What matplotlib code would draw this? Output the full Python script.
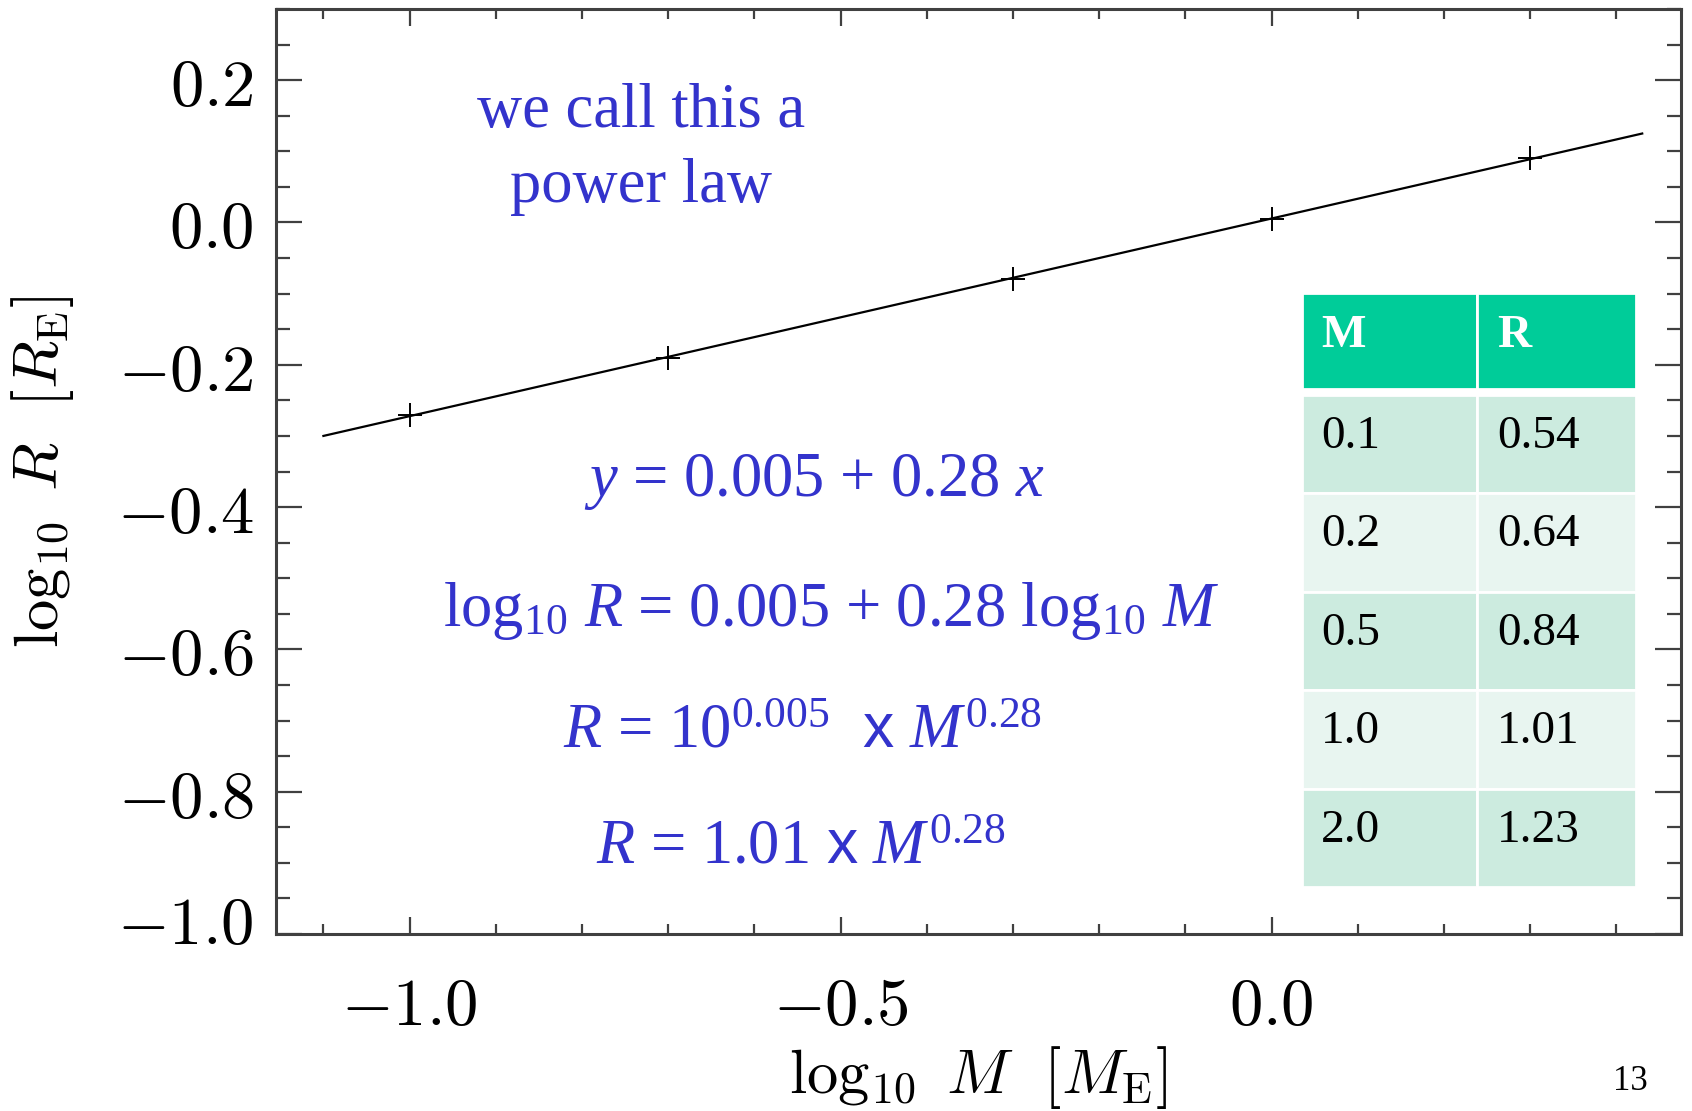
"""
Mass-radius power law slide: log10 R vs log10 M with fit line, equations and a small table.
"""
import matplotlib
matplotlib.use("Agg")
import matplotlib.pyplot as plt
from matplotlib.patches import Rectangle
from matplotlib.ticker import FixedLocator, MultipleLocator
from matplotlib.transforms import ScaledTranslation

plt.rcParams["mathtext.fontset"] = "cm"
# "custom" math set used only by the blue slide text
plt.rcParams["mathtext.rm"] = "Liberation Serif"
plt.rcParams["mathtext.it"] = "Liberation Serif:italic"
plt.rcParams["mathtext.sf"] = "Liberation Sans"

# table values (Earth units)
mass = ["0.1", "0.2", "0.5", "1.0", "2.0"]
radius = ["0.54", "0.64", "0.84", "1.01", "1.23"]
header = ["M", "R"]

# plotted points (log10 M, log10 R)
logm = [-1.0, -0.70, -0.30, 0.0, 0.30]
logr = [-0.27, -0.19, -0.08, 0.005, 0.09]

# fitted line end points
fit_x = [-1.10, 0.43]
fit_y = [-0.30, 0.125]

xticks = [-1.0, -0.5, 0.0]
yticks = [0.2, 0.0, -0.2, -0.4, -0.6, -0.8, -1.0]

BLUE = "#3333CC"
AXC = "#404040"
W, H = 1692, 1111

fig = plt.figure(figsize=(W / 100, H / 100), dpi=100)
ax = fig.add_axes([276 / W, 1 - 934 / H, (1681 - 276) / W, (934 - 9) / H])

ax.plot(fit_x, fit_y, color="black", lw=1.6)
ax.plot(logm, logr, ls="none", marker="+", ms=17, mew=1.4, color="black")
ax.set_xlim(-1.155, 0.475)
ax.set_ylim(-1.0, 0.3)

ax.xaxis.set_major_locator(FixedLocator(xticks))
ax.xaxis.set_minor_locator(MultipleLocator(0.1))
ax.yaxis.set_major_locator(FixedLocator(yticks))
ax.yaxis.set_minor_locator(MultipleLocator(0.05))
ax.set_xticklabels([f"${v:.1f}$" for v in xticks])
ax.set_yticklabels([f"${v:.1f}$" for v in yticks])

ax.tick_params(which="both", direction="in", top=True, right=True, color=AXC, width=1.6)
ax.tick_params(axis="x", which="major", length=12.5, pad=28, labelsize=48)
ax.tick_params(axis="x", which="minor", length=7)
ax.tick_params(axis="y", which="major", length=19, pad=16, labelsize=48)
ax.tick_params(axis="y", which="minor", length=10)
for s in ax.spines.values():
    s.set_linewidth(2.2)
    s.set_color(AXC)

# bottom y label sits a bit higher in the original
lab = ax.get_yticklabels()[-1]
lab.set_transform(lab.get_transform() + ScaledTranslation(0, 0.16, fig.dpi_scale_trans))

ax.set_xlabel(r"$\log_{10}\ M\ \ [M_{\rm E}]$", fontsize=45)
ax.xaxis.label.set_va("center")
ax.xaxis.set_label_coords(0.5, -0.155)
ax.set_ylabel(r"$\log_{10}\ R\ \ [R_{\rm E}]$", fontsize=45)
ax.yaxis.label.set_va("center")
ax.yaxis.set_label_coords(-0.166, 0.5)

# blue annotation text
def ftext(x, y, s):
    fig.text(x / W, 1 - y / H, s, ha="center", va="baseline", color=BLUE,
             family="Liberation Serif", math_fontfamily="custom", fontsize=45)

ftext(641, 127, "we call this a")
ftext(641, 202, "power law")
ftext(814, 496, r"$y$ = 0.005 + 0.28 $x$")
ftext(831, 626, r"log$_{10}$ $R$ = 0.005 + 0.28 log$_{10}$ $M$")
ftext(803, 748, r"$R$ = 10$^{0.005}$  $\mathsf{x}$ $M^{0.28}$")
ftext(801, 863, r"$R$ = 1.01 $\mathsf{x}$ $M^{0.28}$")

# table (pixel units inside its own axes)
tx0, tx1, ty0, ty1 = 1302, 1636, 293, 887
tab = fig.add_axes([tx0 / W, 1 - ty1 / H, (tx1 - tx0) / W, (ty1 - ty0) / H])
tab.set_xlim(0, tx1 - tx0)
tab.set_ylim(ty1 - ty0, 0)
tab.axis("off")
cols = [(0, 175), (175, tx1 - tx0)]
text_x = [19, 195]
for (c0, c1), h, txx in zip(cols, header, text_x):
    tab.add_patch(Rectangle((c0, 0), c1 - c0, 96, facecolor="#00CC99", edgecolor="white", lw=2))
    tab.text(txx, 54, h, color="white", fontsize=34, fontweight="bold",
             family="Liberation Serif", va="baseline")
row_cols = ["#CCEBDF", "#E8F5F0"]
for i, (m, r) in enumerate(zip(mass, radius)):
    top = 102 + i * 98.4
    for (c0, c1), val, txx in zip(cols, (m, r), text_x):
        tab.add_patch(Rectangle((c0, top), c1 - c0, 98.4, facecolor=row_cols[i % 2],
                                edgecolor="white", lw=2))
        tab.text(txx, top + 53, val, color="black", fontsize=34,
                 family="Liberation Serif", va="baseline")

fig.text(1630 / W, 1 - 1082 / H, "13", fontsize=25, family="Liberation Serif",
         ha="center", va="center")

fig.savefig("out.png", dpi=100)
